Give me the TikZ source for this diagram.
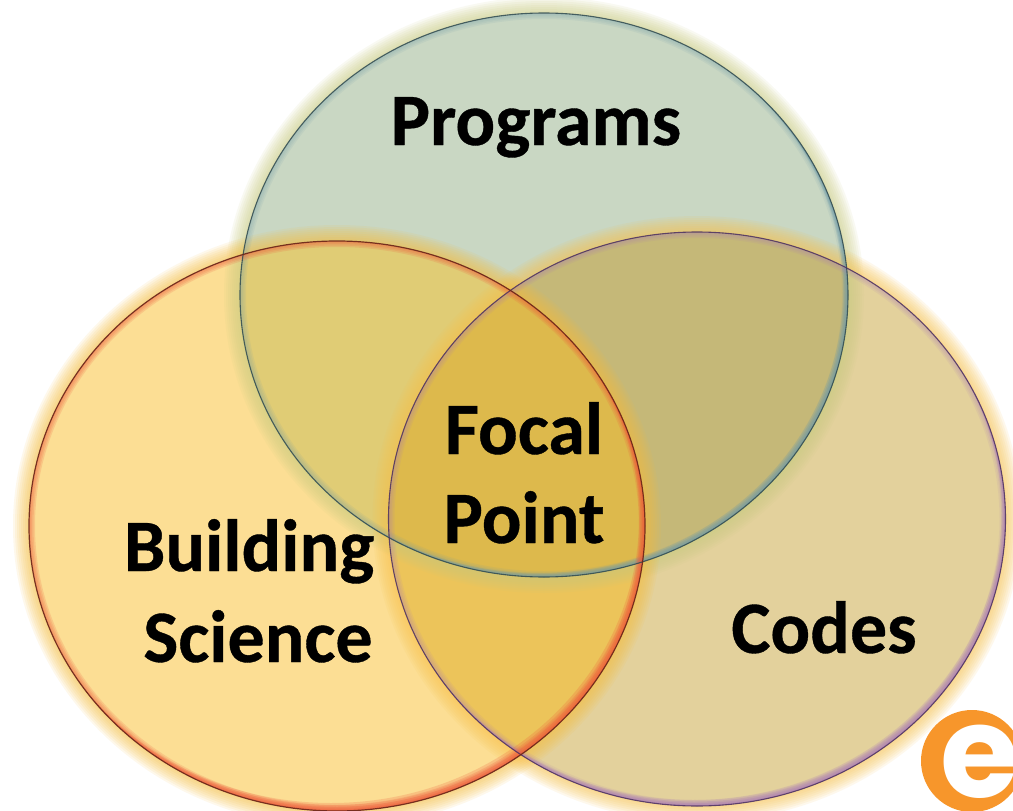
\documentclass[tikz,border=0pt]{standalone}
\usepackage{fontspec}
\setmainfont{Carlito}[BoldFeatures={FakeBold=0.5}]
\newfontfamily\logofont{Poppins}
\definecolor{cT}{HTML}{C9D7C3}
\definecolor{cL}{HTML}{FCDE94}
\definecolor{cR}{HTML}{E3D19C}
\definecolor{cTL}{HTML}{E0CC75}
\definecolor{cTR}{HTML}{C5B878}
\definecolor{cLR}{HTML}{ECC45A}
\definecolor{cA}{HTML}{DDB94C}
\definecolor{glowT}{HTML}{C8CC80}
\definecolor{glowL}{HTML}{F8BE3C}
\definecolor{glowR}{HTML}{F9C24C}
\definecolor{rimT}{HTML}{6E9AA8}
\definecolor{rimL}{HTML}{EE5A3A}
\definecolor{rimR}{HTML}{A878B8}
\definecolor{edgeT}{HTML}{2F4A50}
\definecolor{edgeL}{HTML}{6A2418}
\definecolor{edgeR}{HTML}{4A2F60}
\definecolor{logoC}{HTML}{F7962B}
\def\cT{(544,295) ellipse [x radius=304,y radius=282]}
\def\cL{(337,526) ellipse [x radius=308,y radius=285]}
\def\cR{(697,519) ellipse [x radius=308.5,y radius=287]}
\def\bigbox{(-50,-50) rectangle (1100,900)}
\newcommand{\glowring}[2]{%
  \begin{scope}[even odd rule]
    \clip \bigbox #1;
    \foreach \w in {4,8,...,32} {\draw[#2,line width=\w pt,opacity=.1] #1;}
  \end{scope}}
\newcommand{\crescent}[7]{% clip path, centre, radii, colour, dx, dy, ring opacity
  \begin{scope}
    \clip #1;
    \foreach \w in {3,6,9,12} {\draw[#4,line width=\w pt,opacity=#7] #1;}
    \begin{scope}[even odd rule]
      \foreach \f in {0.5,1,1.5,2} {
        \fill[#4,opacity=.22] \bigbox ([shift={(\f*#5,\f*#6)}]#2) ellipse [#3];}
    \end{scope}
  \end{scope}}
\tikzset{label text/.style={font=\fontsize{74}{74}\selectfont\bfseries,anchor=base,text=black,inner sep=0pt}}
\begin{document}
\begin{tikzpicture}[x=1pt,y=-1pt]
\useasboundingbox (0,0) rectangle (1013,811);
\fill[white] (0,0) rectangle (1013,811);
% logo
\fill[logoC] (972,761) circle [radius=51];
\node[font=\logofont\fontsize{128}{128}\selectfont\bfseries,text=white,anchor=base,inner sep=0pt] (logo) at (980,797) {e};
% fills
\fill[cR] \cR;
\fill[cL] \cL;
\fill[cT] \cT;
\begin{scope}\clip \cT; \fill[cTL] \cL; \fill[cTR] \cR; \end{scope}
\begin{scope}\clip \cL; \fill[cLR] \cR; \end{scope}
\begin{scope}\clip \cT; \clip \cL; \fill[cA] \cR; \end{scope}
% glows and rims
\glowring{\cT}{glowT}
\glowring{\cR}{glowR}
\glowring{\cL}{glowL}
\crescent{\cT}{544,295}{x radius=304,y radius=282}{rimT}{-2.5}{-2}{.1}
\crescent{\cR}{697,519}{x radius=308.5,y radius=287}{rimR}{-2}{-3}{.1}
\crescent{\cL}{337,526}{x radius=308,y radius=285}{rimL}{-3}{-4}{.17}
\draw[edgeT,line width=1.1pt,opacity=.85] \cT;
\draw[edgeR,line width=1.1pt,opacity=.85] \cR;
\draw[edgeL,line width=1.2pt,opacity=.9] \cL;
% text
\node[label text] (programs) at (536,145) {Programs};
\node[label text] (focal) at (524,454) {Focal};
\node[label text] (point) at (524,543) {Point};
\node[label text] (building) at (249,571) {Building};
\node[label text] (science) at (258,662) {Science};
\node[label text] (codes) at (824,653) {Codes};
\end{tikzpicture}
\end{document}
